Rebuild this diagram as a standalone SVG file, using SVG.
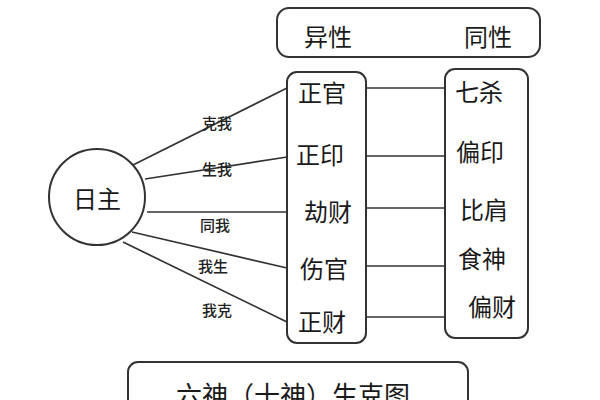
<svg xmlns="http://www.w3.org/2000/svg" width="600" height="400" viewBox="0 0 600 400">
<style>
.box{fill:#fff;stroke:#333;stroke-width:2}
.ln{stroke:#333;stroke-width:1.7;fill:none}
.t{font-family:"Noto Sans CJK SC","Noto Sans",sans-serif;font-size:24px;fill:#1a1a1a;dominant-baseline:central}
.s{font-family:"Noto Sans CJK SC","Noto Sans",sans-serif;font-size:15px;font-weight:500;fill:#222;text-anchor:middle;dominant-baseline:central}
</style>
<rect width="600" height="400" fill="#fff"/>
<g id="header">
<rect class="box" x="277" y="8" width="263" height="49" rx="12"/>
<text class="t" x="304" y="35">异性</text>
<text class="t" x="464" y="35">同性</text>
</g>
<g id="left-column">
<rect class="box" x="287" y="72" width="79" height="271" rx="10"/>
<text class="t" x="298" y="91">正官</text>
<text class="t" x="296" y="153">正印</text>
<text class="t" x="304" y="210">劫财</text>
<text class="t" x="300" y="267">伤官</text>
<text class="t" x="298" y="320">正财</text>
</g>
<g id="right-column">
<rect class="box" x="445" y="69" width="83" height="269" rx="10"/>
<text class="t" x="455" y="90">七杀</text>
<text class="t" x="456" y="150">偏印</text>
<text class="t" x="460" y="208">比肩</text>
<text class="t" x="458" y="257">食神</text>
<text class="t" x="468" y="305">偏财</text>
</g>
<g id="day-master">
<circle class="box" cx="97" cy="197" r="48"/>
<text class="t" x="97" y="197" text-anchor="middle">日主</text>
</g>
<g id="connectors">
<line class="ln" x1="133" y1="165" x2="287" y2="88"/>
<line class="ln" x1="145" y1="179" x2="287" y2="157"/>
<line class="ln" x1="147" y1="212" x2="287" y2="212"/>
<line class="ln" x1="132" y1="232" x2="287" y2="268"/>
<line class="ln" x1="123" y1="242" x2="287" y2="322"/>
<line class="ln" x1="366" y1="88" x2="445" y2="88"/>
<line class="ln" x1="366" y1="156" x2="445" y2="156"/>
<line class="ln" x1="366" y1="208" x2="445" y2="208"/>
<line class="ln" x1="366" y1="266" x2="445" y2="266"/>
<line class="ln" x1="366" y1="317" x2="445" y2="317"/>
</g>
<g id="labels">
<text class="s" x="217" y="122">克我</text>
<text class="s" x="217" y="168">生我</text>
<text class="s" x="215" y="224">同我</text>
<text class="s" x="213" y="265">我生</text>
<text class="s" x="217" y="309">我克</text>
</g>
<g id="title">
<rect class="box" x="128" y="362" width="340" height="60" rx="10"/>
<text class="t" x="293" y="393" text-anchor="middle" style="font-size:26px">六神（十神）生克图</text>
</g>
</svg>
